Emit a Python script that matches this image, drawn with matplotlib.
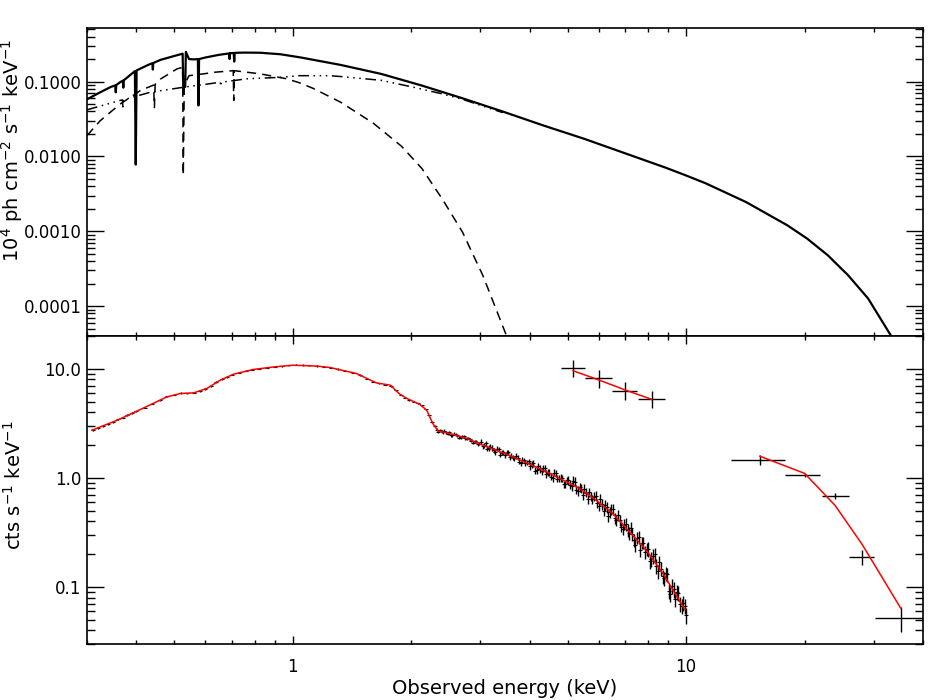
import matplotlib
matplotlib.use("Agg")
import matplotlib.pyplot as plt
from matplotlib.ticker import LogLocator, NullFormatter, FormatStrFormatter

# ---- top panel: unfolded model (total, soft component, power law) ----
tot_E = [0.30, 0.324, 0.345, 0.354, 0.355, 0.356, 0.364, 0.370, 0.371, 0.372,
         0.397, 0.399, 0.401, 0.43, 0.44, 0.441, 0.442, 0.461, 0.50, 0.525,
         0.527, 0.533, 0.535, 0.545, 0.56, 0.574, 0.576, 0.578, 0.60, 0.65,
         0.69, 0.691, 0.692, 0.708, 0.710, 0.712, 0.75, 0.826, 0.93, 1.043,
         1.324, 1.679, 2.13, 2.70, 3.42, 4.34, 5.51, 6.98, 8.86, 9.97,
         11.2, 14.2, 18.1, 20.3, 22.9, 25.8, 29.0, 33.1, 34.0]
tot_F = [0.058, 0.072, 0.085, 0.089, 0.072, 0.09, 0.098, 0.103, 0.083, 0.104,
         0.138, 0.0078, 0.141, 0.168, 0.176, 0.145, 0.177, 0.195, 0.22, 0.236,
         0.085, 0.085, 0.25, 0.20, 0.198, 0.20, 0.048, 0.20, 0.21, 0.228,
         0.238, 0.20, 0.239, 0.241, 0.185, 0.242, 0.244, 0.243, 0.232, 0.211,
         0.167, 0.1266, 0.0885, 0.0599, 0.0398, 0.0259, 0.0172, 0.01107, 0.0071, 0.0056,
         0.00439, 0.00246, 0.0012, 0.0008, 0.00048, 0.000259, 0.000127, 0.000041, 0.000033]

disk_E = [0.30, 0.324, 0.364, 0.41, 0.443, 0.445, 0.447, 0.461, 0.508, 0.525,
          0.527, 0.530, 0.545, 0.60, 0.629, 0.706, 0.708, 0.710, 0.826, 0.966,
          1.043, 1.128, 1.324, 1.60, 1.89, 2.13, 2.40, 2.70, 3.04, 3.49, 3.6]
disk_F = [0.019, 0.030, 0.050, 0.076, 0.090, 0.045, 0.092, 0.108, 0.148, 0.155,
          0.0056, 0.09, 0.12, 0.128, 0.133, 0.14, 0.056, 0.14, 0.127, 0.109,
          0.096, 0.081, 0.053, 0.028, 0.0137, 0.0069, 0.0027, 0.00098, 0.00026, 0.000041, 0.00003]

pl_E = [0.30, 0.364, 0.369, 0.370, 0.371, 0.434, 0.527, 0.60, 0.654, 0.656,
        0.658, 0.764, 0.928, 1.04, 1.24, 1.32, 1.68, 2.03, 2.40, 2.70, 3.42]
pl_F = [0.042, 0.056, 0.057, 0.046, 0.057, 0.072, 0.084, 0.092, 0.098, 0.086,
        0.098, 0.109, 0.114, 0.12, 0.12, 0.117, 0.104, 0.084, 0.0685, 0.058, 0.0385]

# ---- bottom panel: folded spectra ----
# soft instrument, 0.3-10 keV
soft_E = [0.31, 0.32, 0.33, 0.34, 0.35, 0.36, 0.37, 0.38, 0.39, 0.40,
          0.42, 0.44, 0.46, 0.48, 0.50, 0.52, 0.54, 0.56, 0.58, 0.60,
          0.62, 0.64, 0.66, 0.68, 0.70, 0.73, 0.76, 0.79, 0.82, 0.86,
          0.90, 0.94, 0.98, 1.02, 1.06, 1.10, 1.15, 1.20, 1.25, 1.30,
          1.36, 1.42, 1.48, 1.54, 1.60, 1.66, 1.72, 1.78, 1.83, 1.88,
          1.93, 1.98, 2.03, 2.08, 2.13, 2.18, 2.22, 2.26,
          2.30, 2.34, 2.39, 2.43, 2.48, 2.52, 2.57, 2.62, 2.67, 2.72,
          2.77, 2.82, 2.87, 2.93, 2.98, 3.04, 3.10, 3.15, 3.21, 3.27,
          3.34, 3.40, 3.46, 3.53, 3.59, 3.66, 3.73, 3.80, 3.87, 3.94,
          4.02, 4.09, 4.17, 4.25, 4.33, 4.41, 4.49, 4.58, 4.66, 4.75,
          4.84, 4.93, 5.02, 5.12, 5.21, 5.31, 5.41, 5.51, 5.62, 5.72,
          5.83, 5.94, 6.05, 6.17, 6.28, 6.40, 6.52, 6.64, 6.77, 6.90,
          7.03, 7.16, 7.29, 7.43, 7.57, 7.71, 7.86, 8.01, 8.16, 8.31,
          8.47, 8.63, 8.79, 8.95, 9.12, 9.29, 9.47, 9.65, 9.83, 9.98]
soft_rate = [2.76, 2.86, 2.97, 3.12, 3.26, 3.44, 3.57, 3.76, 3.92, 4.08,
             4.40, 4.80, 5.18, 5.58, 5.80, 5.98, 5.95, 6.05, 6.22, 6.55,
             6.98, 7.55, 8.05, 8.45, 8.85, 9.25, 9.60, 9.85, 10.05, 10.25,
             10.45, 10.55, 10.75, 10.95, 10.85, 10.75, 10.62, 10.45, 10.25, 9.98,
             9.60, 9.25, 8.75, 8.15, 7.62, 7.35, 7.15, 6.95, 6.35, 5.80,
             5.45, 5.20, 5.00, 4.82, 4.62, 4.25, 3.75, 3.25,
             2.99, 2.64, 2.68, 2.70, 2.55, 2.46, 2.54, 2.45, 2.35, 2.40,
             2.29, 2.27, 2.11, 2.15, 2.06, 1.95, 2.07, 1.88, 1.88, 1.73,
             1.83, 1.70, 1.61, 1.71, 1.60, 1.51, 1.53, 1.36, 1.45, 1.38,
             1.29, 1.37, 1.18, 1.21, 1.23, 1.09, 1.12, 0.990, 1.10, 0.982,
             0.990, 0.873, 0.950, 0.846, 0.925, 0.762, 0.795, 0.799, 0.637, 0.676,
             0.672, 0.590, 0.639, 0.501, 0.539, 0.489, 0.519, 0.407, 0.412, 0.337,
             0.380, 0.310, 0.305, 0.243, 0.286, 0.255, 0.209, 0.223, 0.181, 0.199,
             0.139, 0.147, 0.120, 0.131, 0.0868, 0.0951, 0.0904, 0.0696, 0.0713, 0.0548]
soft_frac = ([0.015] * 58 + [0.03] * 15 + [0.055] * 15 + [0.075] * 12 + [0.095] * 10
             + [0.115] * 8 + [0.135] * 7 + [0.15] * 7 + [0.16] * 6)

# interleaved bins of the same spectrum above 2.3 keV
soft2_E = [2.32, 2.365, 2.41, 2.455, 2.50, 2.545, 2.595, 2.645, 2.695, 2.745,
           2.795, 2.845, 2.90, 2.955, 3.01, 3.07, 3.125, 3.18, 3.24, 3.305,
           3.37, 3.43, 3.495, 3.56, 3.625, 3.695, 3.765, 3.835, 3.905, 3.98,
           4.055, 4.13, 4.21, 4.29, 4.37, 4.45, 4.535, 4.62, 4.705, 4.795,
           4.885, 4.975, 5.07, 5.165, 5.26, 5.36, 5.46, 5.565, 5.67, 5.775,
           5.885, 5.995, 6.11, 6.225, 6.34, 6.46, 6.58, 6.705, 6.835, 6.965,
           7.095, 7.225, 7.36, 7.50, 7.64, 7.785, 7.935, 8.085, 8.235, 8.39,
           8.55, 8.71, 8.87, 9.035, 9.205, 9.38, 9.56, 9.74, 9.905]
soft2_rate = [2.77, 2.75, 2.62, 2.63, 2.64, 2.45, 2.48, 2.34, 2.41, 2.31,
              2.32, 2.18, 2.16, 2.03, 2.15, 1.99, 1.86, 1.93, 1.79, 1.86,
              1.63, 1.72, 1.70, 1.55, 1.55, 1.59, 1.41, 1.46, 1.37, 1.42,
              1.32, 1.165, 1.28, 1.145, 1.22, 1.12, 1.025, 1.12, 0.983, 1.00,
              0.877, 0.958, 0.868, 0.944, 0.781, 0.827, 0.698, 0.733, 0.738, 0.641,
              0.688, 0.552, 0.578, 0.567, 0.444, 0.514, 0.431, 0.459, 0.358, 0.373,
              0.331, 0.350, 0.267, 0.284, 0.217, 0.255, 0.221, 0.172, 0.192, 0.156,
              0.168, 0.125, 0.133, 0.0916, 0.102, 0.0773, 0.088, 0.0673, 0.067]
soft2_frac = ([0.03] * 14 + [0.055] * 16 + [0.075] * 12 + [0.095] * 10
              + [0.115] * 8 + [0.135] * 7 + [0.15] * 6 + [0.16] * 6)

soft_mod_E = [0.309, 0.358, 0.41, 0.479, 0.518, 0.56, 0.605, 0.654, 0.707, 0.794,
              0.893, 1.0, 1.15, 1.24, 1.45, 1.63, 1.77, 1.87, 1.95, 2.10,
              2.19, 2.27, 2.34, 2.51, 2.77, 3.0, 3.63, 4.42, 5.36, 5.90,
              6.51, 7.18, 7.92, 8.73, 9.90]
soft_mod = [2.74, 3.38, 4.24, 5.53, 5.94, 6.02, 6.61, 7.87, 8.93, 9.87,
            10.4, 10.8, 10.6, 10.3, 9.07, 7.44, 7.08, 5.86, 5.35, 4.74,
            4.18, 3.15, 2.70, 2.55, 2.30, 2.04, 1.56, 1.135, 0.80, 0.624,
            0.471, 0.32, 0.217, 0.133, 0.063]

# second instrument, 5-9 keV
mid_E = [5.16, 6.0, 7.0, 8.17]
mid_Elo = [4.82, 5.53, 6.49, 7.53]
mid_Ehi = [5.53, 6.49, 7.5, 8.83]
mid_rate = [10.1, 8.2, 6.3, 5.3]
mid_lo = [8.44, 6.7, 5.23, 4.33]
mid_hi = [12.0, 9.7, 7.5, 6.23]
mid_mod = [9.6, 7.9, 6.4, 5.25]

# hard instrument, 13-40 keV
hard_E = [15.4, 20.0, 23.9, 28.0, 35.1]
hard_Elo = [13.0, 17.8, 22.1, 26.0, 30.2]
hard_Ehi = [17.8, 21.9, 25.9, 30.1, 40.0]
hard_rate = [1.45, 1.06, 0.684, 0.188, 0.052]
hard_lo = [1.31, 1.01, 0.64, 0.158, 0.039]
hard_hi = [1.61, 1.11, 0.73, 0.217, 0.066]
hard_mod = [1.58, 1.10, 0.56, 0.246, 0.064]


plt.rcParams['font.family'] = ['DejaVu Sans']
plt.rcParams['mathtext.fontset'] = 'dejavusans'

fig = plt.figure(figsize=(9.5, 7), dpi=100)
ax1 = fig.add_axes([0.0916, 0.52, 0.88, 0.44])
ax2 = fig.add_axes([0.0916, 0.08, 0.88, 0.44])


def style_axes(ax):
    ax.set_xscale('log')
    ax.set_yscale('log')
    ax.set_xlim(0.3, 40)
    for sp in ax.spines.values():
        sp.set_linewidth(1.2)
    ax.xaxis.set_minor_locator(LogLocator(base=10, subs=range(2, 10), numticks=20))
    ax.yaxis.set_minor_locator(LogLocator(base=10, subs=range(2, 10), numticks=20))
    ax.xaxis.set_minor_formatter(NullFormatter())
    ax.yaxis.set_minor_formatter(NullFormatter())
    ax.tick_params(which='both', direction='in', top=True, right=True,
                   width=1.0, labelsize=12)
    ax.tick_params(axis='y', which='major', length=12, pad=4)
    ax.tick_params(axis='y', which='minor', length=6)
    ax.tick_params(axis='x', which='major', length=6, pad=10)
    ax.tick_params(axis='x', which='minor', length=3)


def asym(centre, lo, hi):
    return [[c - l for c, l in zip(centre, lo)], [h - c for c, h in zip(centre, hi)]]


# top panel
style_axes(ax1)
ax1.set_ylim(4e-5, 0.52)
ax1.plot(disk_E, disk_F, color='black', lw=1.1, ls=(0, (6, 4)))
ax1.plot(pl_E, pl_F, color='black', lw=1.1, ls=(0, (7, 3, 1, 3, 1, 3, 1, 3)))
ax1.plot(tot_E, tot_F, color='black', lw=1.6)
ax1.set_yticks([1e-4, 1e-3, 1e-2, 1e-1])
ax1.yaxis.set_major_formatter(FormatStrFormatter('%.4f'))
ax1.tick_params(axis='x', labelbottom=False)

# bottom panel
style_axes(ax2)
ax2.set_ylim(0.03, 20)
soft_err = [r * f for r, f in zip(soft_rate, soft_frac)]
soft2_err = [r * f for r, f in zip(soft2_rate, soft2_frac)]
ax2.errorbar(soft_E, soft_rate, yerr=soft_err, fmt='_', ms=2.5, mew=0.8,
             color='black', elinewidth=1.0, capsize=0, zorder=2)
ax2.errorbar(soft2_E, soft2_rate, yerr=soft2_err, fmt='_', ms=2.5, mew=0.8,
             color='black', elinewidth=1.0, capsize=0, zorder=2)
ax2.plot(soft_mod_E, soft_mod, color='red', lw=1.1, zorder=3)

ax2.errorbar(mid_E, mid_rate, xerr=asym(mid_E, mid_Elo, mid_Ehi),
             yerr=asym(mid_rate, mid_lo, mid_hi), fmt='none',
             ecolor='black', elinewidth=1.0, capsize=0, zorder=2)
ax2.plot(mid_E, mid_mod, color='red', lw=1.1, zorder=3)

ax2.errorbar(hard_E, hard_rate, xerr=asym(hard_E, hard_Elo, hard_Ehi),
             yerr=asym(hard_rate, hard_lo, hard_hi), fmt='none',
             ecolor='black', elinewidth=1.0, capsize=0, zorder=2)
ax2.plot(hard_E, hard_mod, color='red', lw=1.1, zorder=3)

ax2.set_yticks([0.1, 1.0, 10.0])
ax2.yaxis.set_major_formatter(FormatStrFormatter('%.1f'))
ax2.set_xticks([1, 10])
ax2.xaxis.set_major_formatter(FormatStrFormatter('%g'))

# labels
fig.text(12 / 950, 1 - 150 / 700, r'10$^4$ ph cm$^{-2}$ s$^{-1}$ keV$^{-1}$',
         rotation=90, ha='center', va='center', fontsize=14)
fig.text(14 / 950, 1 - 485 / 700, r'cts s$^{-1}$ keV$^{-1}$',
         rotation=90, ha='center', va='center', fontsize=14)
fig.text(505 / 950, 6 / 700, 'Observed energy (keV)', ha='center',
         va='baseline', fontsize=14)

fig.savefig('out.png', dpi=100)
